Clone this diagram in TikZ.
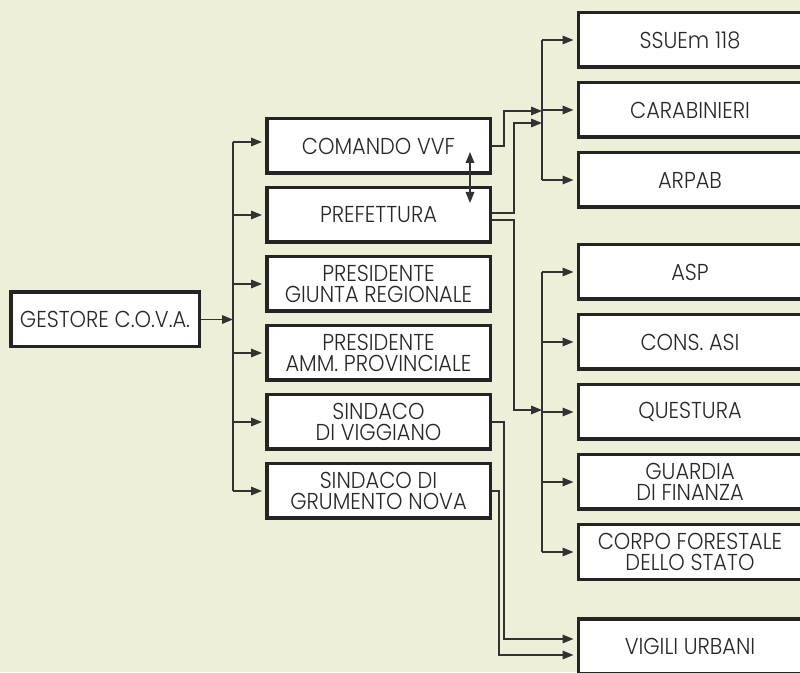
\documentclass[tikz,border=0pt]{standalone}
\usepackage{fontspec}
\setmainfont{Poppins}[UprightFont={* Light}, FakeStretch=0.91]
\usetikzlibrary{arrows.meta, positioning}
\definecolor{bgcol}{RGB}{238,239,216}
\definecolor{edgecol}{RGB}{36,36,36}
\definecolor{linecol}{RGB}{50,50,50}
\definecolor{txtcol}{RGB}{40,40,40}

\begin{document}
\begin{tikzpicture}[
        x=1pt, y=1pt,
        box/.style={rectangle, draw=edgecol, fill=white, line width=3.5pt, minimum width=223.5pt, minimum height=54.5pt, inner sep=0pt, align=center, text=txtcol, font=\fontsize{23}{21}\selectfont},
        conn/.style={draw=linecol, line width=1.6pt},
        arr/.style={conn, -{Triangle[length=11pt, width=8.5pt]}},
        arrbox/.style={arr, shorten >=3pt},
        dblarr/.style={conn, {Triangle[length=11pt, width=8.5pt]}-{Triangle[length=11pt, width=8.5pt]}}
    ]
        \useasboundingbox (0,0) rectangle (800,672);
        \fill[bgcol] (0,0) rectangle (800,672);

        \node[box, minimum width=188.5pt] (gestore) at (105,352.5) {GESTORE C.O.V.A.};

        \node[box] (comando) at (378.5,526) {COMANDO VVF};
        \node[box, below=11pt of comando] (prefettura) {PREFETTURA};
        \node[box, below=11pt of prefettura] (giunta) {PRESIDENTE\\GIUNTA REGIONALE};
        \node[box, below=11pt of giunta] (provincia) {PRESIDENTE\\AMM. PROVINCIALE};
        \node[box, below=11pt of provincia] (viggiano) {SINDACO\\DI VIGGIANO};
        \node[box, below=11pt of viggiano] (grumento) {SINDACO DI\\GRUMENTO NOVA};

        \node[box] (ssuem) at (690,632) {SSUEm 118};
        \node[box, below=12pt of ssuem] (carabinieri) {CARABINIERI};
        \node[box, below=12pt of carabinieri] (arpab) {ARPAB};

        \node[box] (asp) at (690,400) {ASP};
        \node[box, below=12pt of asp] (asi) {CONS. ASI};
        \node[box, below=12pt of asi] (questura) {QUESTURA};
        \node[box, below=12pt of questura] (finanza) {GUARDIA\\DI FINANZA};
        \node[box, below=12pt of finanza] (forestale) {CORPO FORESTALE\\DELLO STATO};

        \node[box] (vigili) at (690,26) {VIGILI URBANI};

        \coordinate (busA) at (233,0);
        \coordinate (busB) at (542,0);
        \coordinate (inA) at (542,561);
        \coordinate (inB) at (542,549);
        \coordinate (inC) at (542,262);

        \draw[arr] (gestore.east) -- (busA |- gestore.east);
        \draw[conn] ([yshift=4pt]busA |- comando.west) -- (busA |- grumento.west);
        \draw[arrbox] ([yshift=4pt]busA |- comando.west) -- ([yshift=4pt]comando.west);
        \foreach \n in {prefettura, giunta, provincia, viggiano, grumento}
            \draw[arrbox] (busA |- \n.west) -- (\n.west);

        \draw[conn] (busB |- ssuem.west) -- (busB |- arpab.west);
        \foreach \n in {ssuem, carabinieri, arpab}
            \draw[arrbox] (busB |- \n.west) -- (\n.west);
        \draw[conn] (busB |- asp.west) -- (busB |- forestale.west);
        \foreach \n in {asp, asi, questura, finanza, forestale}
            \draw[arrbox] (busB |- \n.west) -- (\n.west);

        \draw[arr] (comando.east) -- ++(12,0) |- (inA);
        \draw[arr] ([yshift=2pt]prefettura.east) -- ++(22,0) |- (inB);
        \draw[arr] ([yshift=-5pt]prefettura.east) -- ++(22,0) |- (inC);
        \draw[arrbox] (viggiano.east) -- ++(12,0) |- ([yshift=7pt]vigili.west);
        \draw[arrbox] (grumento.east) -- ++(7,0) |- ([yshift=-9pt]vigili.west);

        \draw[dblarr] ([xshift=91.5pt, yshift=23pt]comando.south) -- ([xshift=91.5pt, yshift=-17pt]prefettura.north);
    \end{tikzpicture}
\end{document}
